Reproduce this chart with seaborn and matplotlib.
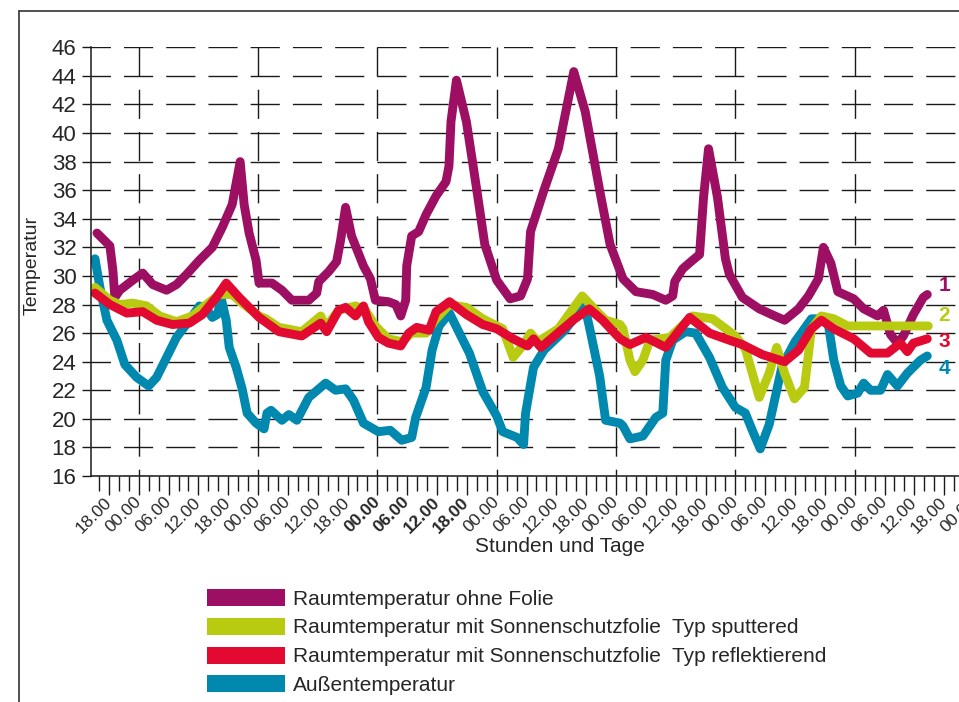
import matplotlib
matplotlib.use("Agg")
import pandas as pd
import matplotlib.pyplot as plt
import seaborn as sns
from matplotlib.patches import Patch
from matplotlib.lines import Line2D
from matplotlib.ticker import FixedLocator, MultipleLocator

# hours counted from the first midnight, temperatures in degC
hours_ohne = [-8.4, -5.8, -5.2, -4.8, -3.8, -1.2, 0.8, 2.8, 5.6, 7.6, 9.6, 12.2, 14.8, 16.8,
              18.8, 20.4, 21.2, 22.2, 23.6, 24.2, 26.8, 28.8, 30.8, 34.2, 35.8, 36.2, 38.2,
              39.8, 40.6, 41.6, 42.8, 45.2, 46.6, 47.6, 50.2, 51.7, 52.7, 53.7, 53.9, 54.9,
              56.3, 57.8, 59.8, 61.8, 62.4, 62.8, 63.9, 65.9, 68.0, 69.6, 72.0, 74.7, 76.8,
              78.2, 78.8, 81.5, 84.4, 87.5, 89.8, 92.7, 94.8, 97.4, 100.0, 103.4, 106.0,
              107.4, 107.8, 109.4, 111.4, 112.8, 113.6, 114.6, 116.4, 118.0, 118.8, 121.4,
              124.8, 127.3, 129.9, 132.7, 134.7, 136.7, 137.7, 139.2, 140.6, 143.8, 145.8,
              148.6, 149.8, 151.2, 152.6, 153.8, 155.8, 157.8, 158.6]
temp_ohne = [33.0, 32.1, 30.4, 28.5, 29.0, 29.7, 30.2, 29.4, 29.0, 29.4, 30.1, 31.1, 32.0, 33.4,
             35.0, 38.0, 35.0, 33.0, 31.1, 29.5, 29.5, 29.0, 28.3, 28.3, 28.8, 29.6, 30.3,
             31.0, 32.5, 34.8, 32.8, 30.7, 29.8, 28.3, 28.2, 28.0, 27.2, 28.3, 30.7, 32.8,
             33.1, 34.3, 35.6, 36.6, 37.7, 40.8, 43.7, 40.8, 36.0, 32.2, 29.7, 28.4, 28.6,
             29.8, 33.1, 36.0, 38.9, 44.3, 41.5, 36.0, 32.2, 29.8, 28.9, 28.7, 28.3,
             28.6, 29.6, 30.5, 31.1, 31.5, 35.5, 38.9, 35.5, 31.2, 30.1, 28.5,
             27.7, 27.3, 26.9, 27.7, 28.6, 29.8, 32.0, 30.9, 28.9, 28.4, 27.7,
             27.2, 27.6, 25.9, 25.3, 25.8, 27.3, 28.5, 28.7]

hours_sputtered = [-8.8, -5.8, -3.8, -1.2, 1.6, 4.2, 7.6, 10.8, 13.6, 16.2, 18.8, 20.8, 24.2,
                   25.6, 28.2, 32.8, 36.6, 37.6, 40.2, 43.6, 45.6, 47.6, 50.2, 52.9, 54.9,
                   57.8, 59.8, 62.5, 65.9, 69.2, 73.2, 75.3, 77.2, 78.8, 80.3, 84.4, 89.2,
                   91.9, 93.9, 96.8, 97.4, 98.8, 99.8, 101.4, 102.8, 106.8, 111.4, 115.4,
                   120.0, 122.0, 124.8, 126.8, 128.3, 129.9, 131.9, 133.9, 135.3, 137.3,
                   139.8, 142.6, 158.8]
temp_sputtered = [29.2, 28.3, 28.0, 28.1, 27.9, 27.2, 26.8, 27.2, 28.0, 28.7, 28.7, 28.1, 27.2,
                  27.0, 26.4, 26.1, 27.2, 26.4, 27.6, 27.9, 27.6, 26.5, 25.6, 25.4, 26.0,
                  26.0, 27.0, 28.0, 27.8, 27.0, 26.3, 24.3, 25.1, 26.0, 25.4, 26.3, 28.6,
                  27.6, 26.9, 26.6, 26.3, 24.1, 23.3, 24.1, 25.5, 25.7, 27.2, 27.0,
                  25.8, 24.9, 21.5, 23.2, 25.0, 23.2, 21.4, 22.2, 26.3, 27.2,
                  27.0, 26.5, 26.5]

hours_reflekt = [-8.8, -5.8, -2.4, 0.8, 3.6, 6.8, 10.2, 12.8, 15.6, 17.6, 20.2, 24.2, 28.2,
                 32.8, 36.6, 37.8, 40.2, 41.6, 43.6, 45.2, 46.2, 48.2, 50.2, 52.7, 54.3,
                 55.9, 58.4, 59.8, 62.5, 65.9, 69.2, 72.0, 75.3, 78.2, 79.4, 80.9, 83.6,
                 87.7, 90.6, 93.3, 96.8, 98.8, 102.0, 106.0, 110.8, 114.8, 118.8, 121.4,
                 125.4, 129.9, 132.7, 135.3, 137.3, 139.8, 143.8, 147.2, 150.6, 153.2,
                 154.6, 155.8, 158.6]
temp_reflekt = [28.8, 28.0, 27.4, 27.5, 26.9, 26.6, 26.7, 27.3, 28.5, 29.5, 28.5, 27.1, 26.1,
                25.8, 26.7, 26.1, 27.6, 27.8, 27.2, 27.9, 26.8, 25.7, 25.3, 25.1, 26.0,
                26.4, 26.2, 27.5, 28.2, 27.3, 26.6, 26.3, 25.6, 25.1, 25.6, 25.0, 25.8,
                27.0, 27.7, 26.9, 25.6, 25.2, 25.7, 25.0, 27.1, 26.0, 25.5, 25.2,
                24.5, 24.0, 24.8, 26.3, 26.9, 26.3, 25.6, 24.6, 24.6, 25.3,
                24.7, 25.3, 25.6]

hours_aussen = [-8.8, -7.8, -6.4, -4.4, -2.8, -0.4, 2.0, 3.6, 5.6, 7.6, 10.2, 12.2, 13.6, 14.8,
                15.8, 16.6, 17.6, 18.2, 19.6, 20.8, 21.8, 23.6, 25.2, 25.8, 26.6, 28.8, 30.2,
                31.8, 34.2, 37.6, 39.6, 41.6, 43.2, 45.2, 48.2, 50.6, 52.9, 54.9, 55.7, 57.8,
                59.0, 60.4, 62.5, 66.5, 69.2, 72.0, 73.2, 76.1, 77.4, 77.8, 79.4, 81.5, 85.7,
                89.6, 90.6, 92.7, 93.9, 96.8, 97.4, 98.8, 101.4, 104.0, 105.4, 106.0, 107.4,
                110.0, 112.0, 114.8, 117.4, 120.0, 122.0, 123.4, 125.0, 126.8, 129.4, 132.0,
                135.3, 137.3, 138.7, 139.8, 141.2, 142.6, 144.6, 145.8, 147.2, 149.2, 150.6,
                152.6, 154.6, 157.2, 158.6]
temp_aussen = [31.2, 29.2, 26.9, 25.5, 23.8, 22.9, 22.3, 22.9, 24.3, 25.7, 26.9, 27.9, 27.7, 27.1,
               27.3, 28.4, 26.9, 25.0, 23.6, 22.1, 20.4, 19.7, 19.3, 20.4, 20.6, 19.9, 20.3,
               19.9, 21.5, 22.5, 22.0, 22.1, 21.3, 19.7, 19.1, 19.2, 18.5, 18.7, 20.1, 22.2,
               24.8, 26.5, 27.4, 24.6, 21.9, 20.2, 19.1, 18.7, 18.2, 20.4, 23.6, 24.8, 26.2,
               28.0, 26.5, 23.0, 19.9, 19.7, 19.5, 18.6, 18.8, 20.1, 20.4, 24.1, 25.5,
               26.1, 26.0, 24.3, 22.2, 20.8, 20.4, 19.2, 17.9, 19.6, 23.7, 25.4,
               27.0, 27.0, 26.6, 24.1, 22.3, 21.6, 21.8, 22.5, 22.0, 22.0, 23.1,
               22.3, 23.2, 24.1, 24.4]

series_names = [
    "Raumtemperatur ohne Folie",
    "Raumtemperatur mit Sonnenschutzfolie  Typ sputtered",
    "Raumtemperatur mit Sonnenschutzfolie  Typ reflektierend",
    "Außentemperatur",
]
series_colors = ["#9C0F62", "#B9CB10", "#E20A30", "#0088AF"]
end_labels = ["1", "2", "3", "4"]
end_label_temps = [29.3, 27.2, 25.4, 23.5]

tick_hours = [-6, 0, 6, 12, 18, 24, 30, 36, 42, 48, 54, 60, 66, 72, 78, 84, 90, 96, 102, 108,
              114, 120, 126, 132, 138, 144, 150, 156, 162, 168]
tick_labels = ["18.00", "00.00", "06.00", "12.00", "18.00", "00.00", "06.00", "12.00", "18.00",
               "00.00", "06.00", "12.00", "18.00", "00.00", "06.00", "12.00", "18.00", "00.00",
               "06.00", "12.00", "18.00", "00.00", "06.00", "12.00", "18.00", "00.00", "06.00",
               "12.00", "18.00", "00.00"]
bold_labels = [9, 10, 11, 12]
midnights = [0, 24, 48, 72, 96, 120, 144, 168]

frames = []
for name, hh, tt in [(series_names[3], hours_aussen, temp_aussen),
                     (series_names[0], hours_ohne, temp_ohne),
                     (series_names[1], hours_sputtered, temp_sputtered),
                     (series_names[2], hours_reflekt, temp_reflekt)]:
    frames.append(pd.DataFrame({"Stunde": hh, "Temperatur": tt, "Serie": name}))
df = pd.concat(frames, ignore_index=True)

sns.set_theme(style="white")
plt.rcParams["font.family"] = ["Liberation Sans", "DejaVu Sans"]

W, H = 959, 702
fig = plt.figure(figsize=(W / 100, H / 100), dpi=100)
ax = fig.add_axes([91 / W, 1 - 476 / H, (979 - 91) / W, (476 - 47.3) / H])

grid_kw = dict(color="#1a1a1a", lw=1.0, linestyle=(7, (21, 9.4)), zorder=0)
for yv in range(16, 47, 2):
    ax.axhline(yv, **grid_kw)
ax.vlines(midnights, 46, 16, colors="#1a1a1a", lw=1.0, linestyles=[(0, (21, 9.4))], zorder=0)

palette = dict(zip(series_names, series_colors))
sns.lineplot(data=df, x="Stunde", y="Temperatur", hue="Serie", palette=palette,
             hue_order=[series_names[3], series_names[0], series_names[1], series_names[2]],
             sort=False, estimator=None, legend=False, lw=6.4, ax=ax,
             solid_joinstyle="round", solid_capstyle="round")

ax.set_xlim(-9.6, 169.0)
ax.set_ylim(16, 46)
ax.yaxis.set_major_locator(MultipleLocator(2))
ax.xaxis.set_major_locator(FixedLocator(tick_hours))
ax.xaxis.set_minor_locator(MultipleLocator(2))
ax.set_xticklabels(tick_labels, rotation=45, ha="right", va="center", rotation_mode="anchor",
                   fontsize=12.5)
for i in bold_labels:
    ax.get_xticklabels()[i].set_fontweight("bold")
ax.tick_params(axis="x", which="major", direction="out", length=14, width=1.0, pad=3,
               color="#1a1a1a", bottom=True)
ax.tick_params(axis="x", which="minor", direction="out", length=10.5, width=1.0,
               color="#1a1a1a", bottom=True)
ax.tick_params(axis="y", direction="out", length=6.5, width=1.0, pad=4, labelsize=16,
               color="#1a1a1a", left=True)

for side in ["top", "right"]:
    ax.spines[side].set_visible(False)
for side in ["left", "bottom"]:
    ax.spines[side].set_color("#1a1a1a")
    ax.spines[side].set_linewidth(1.1)

ax.set_ylabel("Temperatur", fontsize=14)
ax.yaxis.set_label_coords(-0.057, 0.49)
ax.set_xlabel("Stunden und Tage", fontsize=15)
ax.xaxis.set_label_coords(0.528, -0.142)
ax.xaxis.label.set_va("top")

for lab, tv, col in zip(end_labels, end_label_temps, series_colors):
    ax.text(162.0, tv, lab, color=col, fontsize=15, fontweight="bold",
            ha="center", va="center", clip_on=False)

handles = [Patch(facecolor=c, edgecolor="none") for c in series_colors]
fig.legend(handles, series_names, loc="upper left", bbox_to_anchor=(207 / W, 1 - 589 / H),
           frameon=False, fontsize=15, handlelength=3.75, handleheight=0.87,
           handletextpad=0.38, labelspacing=0.44, borderpad=0, borderaxespad=0)

fig.add_artist(Line2D([19 / W, 19 / W], [0, 1 - 11 / H], color="#333333", lw=1.2))
fig.add_artist(Line2D([19 / W, 1], [1 - 11 / H, 1 - 11 / H], color="#333333", lw=1.2))

fig.savefig("out.png", dpi=100)
